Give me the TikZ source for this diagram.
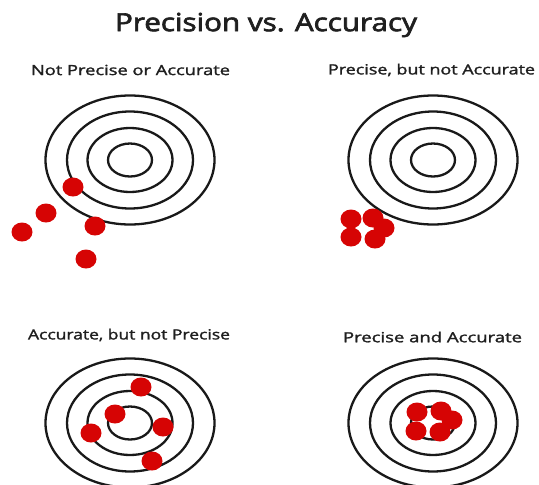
\documentclass[tikz,border=0pt]{standalone}
\usepackage{fontspec}
\usepackage{graphicx}
\setmainfont{Open Sans}
\newfontfamily\medfont{Open Sans}[FakeBold=1.5]
\newfontfamily\ttlfont{Open Sans}[FakeBold=2.5]
\definecolor{dotred}{RGB}{214,4,4}
\newcommand{\fitw}[2]{\resizebox{#1}{\height}{#2}}
\begin{document}
\begin{tikzpicture}[x=1pt,y=-1pt,
  ring/.style={line width=2.3pt,draw=black!90},
  hit/.style={fill=dotred},
  lbl/.style={font=\medfont\fontsize{14}{16}\selectfont, inner sep=0pt, text=black!88},
  ttl/.style={font=\ttlfont\fontsize{25}{28}\selectfont, inner sep=0pt, text=black!88}]
\useasboundingbox (0,0) rectangle (539,485);
\clip (0,0) rectangle (539,485);
\fill[white] (0,0) rectangle (539,485);
% titles
\node[ttl] (title) at (266,25) {\fitw{302pt}{Precision vs. Accuracy}};
\node[lbl] (t1) at (130.5,70) {\fitw{199pt}{Not Precise or Accurate}};
\node[lbl] (t2) at (431.5,70) {\fitw{207pt}{Precise, but not Accurate}};
\node[lbl] (t3) at (129,335) {\fitw{202pt}{Accurate, but not Precise}};
\node[lbl] (t4) at (432.5,337) {\fitw{179pt}{Precise and Accurate}};
% targets
\foreach \cx/\cy in {130/160, 433/160, 130/423, 433/423}{
  \foreach \rx/\ry in {84.5/64.5, 63/48.5, 42.5/32, 22/16.5}
    \draw[ring] (\cx,\cy) ellipse [x radius=\rx pt, y radius=\ry pt];
}
% hits
\foreach \hx/\hy in {73/187, 46/213, 22/232, 95/226, 86/259,
                     351/219, 373/218, 384/228, 351/237, 375/239,
                     141/387, 115/414, 163/427, 91/433, 152/461,
                     417/412, 441/411, 452/420, 416/431, 440/432}
  \fill[hit] (\hx,\hy) ellipse [x radius=10.5pt, y radius=9.5pt];
\end{tikzpicture}
\end{document}
